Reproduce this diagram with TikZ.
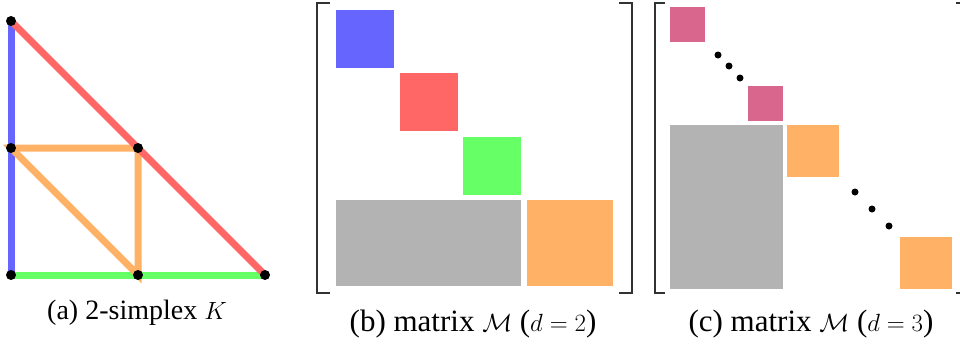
\documentclass[tikz,border=0pt]{standalone}
\usepackage{fontspec}
\setmainfont{Liberation Serif}
\definecolor{cblue}{RGB}{102,102,255}
\definecolor{cred}{RGB}{255,102,102}
\definecolor{cgreen}{RGB}{102,255,102}
\definecolor{corange}{RGB}{255,178,102}
\definecolor{cgray}{RGB}{179,179,179}
\definecolor{cpink}{RGB}{217,102,140}
\definecolor{cbrack}{RGB}{50,50,50}
\tikzset{
  edge/.style={line width=7pt},
  vtx/.style={circle,fill=black,inner sep=0pt,minimum size=10pt},
  sdot/.style={circle,fill=black,inner sep=0pt,minimum size=7pt},
  brack/.style={line width=1.5pt,draw=cbrack},
  captext/.style={font=\fontsize{28}{32}\selectfont,inner sep=0pt},
  captextb/.style={font=\fontsize{31}{35}\selectfont,inner sep=0pt}
}
\begin{document}
\begin{tikzpicture}[x=1pt,y=-1pt]
\useasboundingbox (0,0) rectangle (960,346);
% panel (a)
\coordinate (v1) at (11,21);
\coordinate (v2) at (11,148);
\coordinate (v3) at (138,148);
\coordinate (v4) at (11,275);
\coordinate (v5) at (138,275);
\coordinate (v6) at (265,275);
\draw[edge,cblue] (v1) -- (v4);
\draw[edge,cgreen] (v4) -- (v6);
\draw[edge,corange] (v2) -- (v3) -- (v5) -- cycle;
\draw[edge,cred] (v1) -- (v6);
\foreach \v in {v1,v2,v3,v4,v5,v6} \node[vtx] (d\v) at (\v) {};
\node[captext] (capa) at (137,313) {(a) 2-simplex $K$};
% panel (b)
\draw[brack] (330,3) -- (317,3) -- (317,293) -- (330,293);
\draw[brack] (619,3) -- (632,3) -- (632,293) -- (619,293);
\fill[cblue] (336,10) rectangle (394,68);
\fill[cred] (400,73) rectangle (458,131);
\fill[cgreen] (463,137) rectangle (521,195);
\fill[cgray] (336,200) rectangle (521,286);
\fill[corange] (527,200) rectangle (613,286);
\node[captextb] (capb) at (473,324) {(b) matrix $\mathcal{M}$ ($d=2$)};
% panel (c)
\draw[brack] (665,3) -- (655,3) -- (655,293) -- (665,293);
\draw[brack] (956,3) -- (962,3) -- (962,293) -- (956,293);
\fill[cpink] (670,7) rectangle (705,42);
\fill[cpink] (748,86) rectangle (783,121);
\fill[cgray] (670,125) rectangle (783,289);
\fill[corange] (787,125) rectangle (839,177);
\fill[corange] (900,237) rectangle (952,289);
\node[sdot] (p1) at (718,55) {};
\node[sdot] (p2) at (729,66) {};
\node[sdot] (p3) at (740,78) {};
\node[sdot] (q1) at (855,192) {};
\node[sdot] (q2) at (872,209) {};
\node[sdot] (q3) at (889,226) {};
\node[captextb] (capc) at (811,324) {(c) matrix $\mathcal{M}$ ($d=3$)};
\end{tikzpicture}
\end{document}
